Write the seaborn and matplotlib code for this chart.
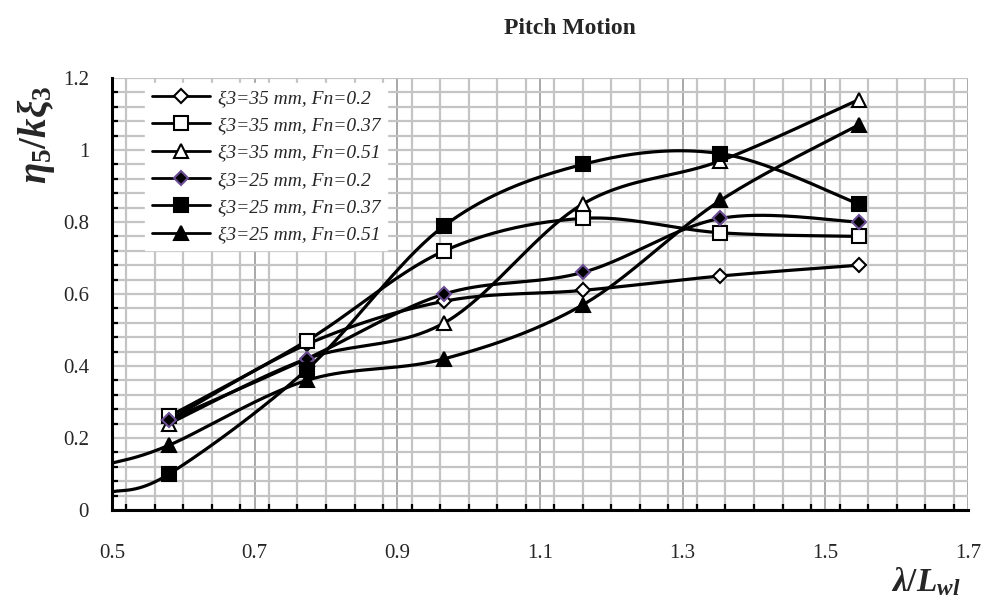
import numpy as np
import matplotlib
matplotlib.use("Agg")
import matplotlib.pyplot as plt
import seaborn as sns
from matplotlib.lines import Line2D
from matplotlib.ticker import MultipleLocator

# wave length ratio at the measured points
wave_ratio = [0.58, 0.773, 0.966, 1.16, 1.353, 1.547]

# response values
amp35_fn020 = [0.25, 0.46, 0.58, 0.61, 0.65, 0.68]
amp35_fn037 = [0.26, 0.47, 0.72, 0.81, 0.77, 0.76]
amp35_fn051 = [0.24, 0.42, 0.52, 0.85, 0.97, 1.14]
amp25_fn020 = [0.25, 0.42, 0.60, 0.66, 0.81, 0.80]
amp25_fn037 = [0.10, 0.39, 0.79, 0.96, 0.99, 0.85]
amp25_fn051 = [0.18, 0.36, 0.42, 0.57, 0.86, 1.07]

# the two 25 mm curves start at the left edge of the chart
lead_x = 0.5
lead_fn037 = 0.05
lead_fn051 = 0.13

labels = ["ξ3=35 mm, Fn=0.2", "ξ3=35 mm, Fn=0.37", "ξ3=35 mm, Fn=0.51",
          "ξ3=25 mm, Fn=0.2", "ξ3=25 mm, Fn=0.37", "ξ3=25 mm, Fn=0.51"]
x_ticks = [0.5, 0.7, 0.9, 1.1, 1.3, 1.5, 1.7]
x_tick_labels = ["0.5", "0.7", "0.9", "1.1", "1.3", "1.5", "1.7"]
y_ticks = [0, 0.2, 0.4, 0.6, 0.8, 1.0, 1.2]
y_tick_labels = ["0", "0.2", "0.4", "0.6", "0.8", "1", "1.2"]


def smooth(xs, ys, n=40):
    # excel style bezier smoothing through the points
    xs = np.asarray(xs, float)
    ys = np.asarray(ys, float)
    px = np.concatenate(([xs[0]], xs, [xs[-1]]))
    py = np.concatenate(([ys[0]], ys, [ys[-1]]))
    out_x, out_y = [], []
    t = np.linspace(0, 1, n)
    for i in range(1, len(px) - 2):
        p0 = np.array([px[i - 1], py[i - 1]])
        p1 = np.array([px[i], py[i]])
        p2 = np.array([px[i + 1], py[i + 1]])
        p3 = np.array([px[i + 2], py[i + 2]])
        c1 = p1 + (p2 - p0) / 6
        c2 = p2 - (p3 - p1) / 6
        b = ((1 - t) ** 3)[:, None] * p1 + (3 * (1 - t) ** 2 * t)[:, None] * c1 \
            + (3 * (1 - t) * t ** 2)[:, None] * c2 + (t ** 3)[:, None] * p2
        out_x.extend(b[:, 0])
        out_y.extend(b[:, 1])
    return np.array(out_x), np.array(out_y)


def main():
    sns.set_style("white")
    plt.rcParams["font.family"] = ["Liberation Serif", "DejaVu Serif"]
    plt.rcParams["mathtext.fontset"] = "custom"
    plt.rcParams["mathtext.it"] = "Liberation Serif:italic:bold"
    plt.rcParams["mathtext.rm"] = "Liberation Serif:bold"

    fig = plt.figure(figsize=(9.83, 6.05), dpi=100)
    ax = fig.add_axes([112 / 983, 1 - 510 / 605, (968 - 112) / 983, (510 - 78) / 605])

    series = [
        (wave_ratio, amp35_fn020, dict(marker="D", mfc="white", mec="black", ms=7.5)),
        (wave_ratio, amp35_fn037, dict(marker="s", mfc="white", mec="black", ms=10)),
        (wave_ratio, amp35_fn051, dict(marker="^", mfc="white", mec="black", ms=10)),
        (wave_ratio, amp25_fn020, dict(marker="D", mfc="black", mec="#6a4c93", ms=7.5)),
        ([lead_x] + wave_ratio, [lead_fn037] + amp25_fn037,
         dict(marker="s", mfc="black", mec="black", ms=10)),
        ([lead_x] + wave_ratio, [lead_fn051] + amp25_fn051,
         dict(marker="^", mfc="black", mec="black", ms=10)),
    ]

    handles = []
    for (xs, ys, style), lab in zip(series, labels):
        sx, sy = smooth(xs, ys)
        sns.lineplot(x=sx, y=sy, sort=False, estimator=None, color="black",
                     linewidth=2.3, ax=ax, zorder=3)
        mx = [v for v in xs if v > lead_x]
        my = ys[len(xs) - len(mx):]
        ax.plot(mx, my, linestyle="none", mew=1.5, zorder=4, **style)
        handles.append(Line2D([], [], color="black", linewidth=2, mew=1.5, **style))

    ax.set_xlim(0.5, 1.7)
    ax.set_ylim(0, 1.2)
    ax.set_xticks(x_ticks)
    ax.set_xticklabels(x_tick_labels)
    ax.set_yticks(y_ticks)
    ax.set_yticklabels(y_tick_labels)
    ax.xaxis.set_minor_locator(MultipleLocator(0.04))
    ax.yaxis.set_minor_locator(MultipleLocator(0.04))

    ax.grid(which="minor", color="#c4c4c4", linewidth=1.6, zorder=0)
    ax.grid(which="major", axis="y", color="#c4c4c4", linewidth=1.6, zorder=0)
    ax.grid(which="major", axis="x", color="#9a9a9a", linewidth=1.2, zorder=0)
    ax.set_axisbelow(True)

    for s in ["top", "right"]:
        ax.spines[s].set_visible(False)
    for s in ["left", "bottom"]:
        ax.spines[s].set_linewidth(2.2)
        ax.spines[s].set_color("black")

    ax.tick_params(which="major", direction="inout", length=9, width=2.2,
                   labelsize=15, color="black")
    ax.tick_params(axis="x", which="major", pad=20)
    ax.tick_params(axis="y", which="major", pad=12)
    ax.tick_params(which="minor", direction="in", length=4.5, width=1.6,
                   left=True, bottom=True, color="black")

    leg = ax.legend(handles, labels, loc="upper left", bbox_to_anchor=(0.027, 1.012),
                    frameon=True, fancybox=False, edgecolor="white", framealpha=1,
                    prop={"family": "Liberation Serif", "style": "italic", "size": 14},
                    handlelength=3.0, labelspacing=0.5, borderpad=0.35,
                    handletextpad=0.4)
    leg.set_zorder(5)

    fig.text(570 / 983, 1 - 28 / 605, "Pitch Motion", ha="center", va="center",
             fontsize=17, fontweight="bold")
    fig.text(36 / 983, 1 - 135 / 605, r"$\eta_5/k\xi_3$", rotation=90,
             ha="center", va="center", fontsize=28)
    fig.text(926 / 983, 1 - 582 / 605, r"$\lambda/L_{wl}$", ha="center",
             va="center", fontsize=24)

    fig.savefig("out.png", dpi=100)


if __name__ == "__main__":
    main()
